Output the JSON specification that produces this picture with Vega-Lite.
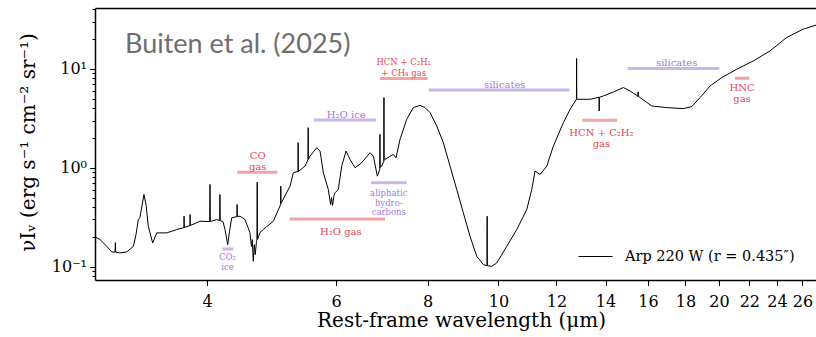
{
  "$schema": "https://vega.github.io/schema/vega-lite/v6.json",
  "autosize": {"type": "none"},
  "padding": {"left": 95, "top": 8, "right": 0, "bottom": 57},
  "width": 721,
  "height": 272,
  "background": "white",
  "config": {
    "view": {"stroke": null},
    "font": "DejaVu Serif",
    "axis": {"labelFont": "DejaVu Serif", "titleFont": "DejaVu Serif", "labelColor": "black", "titleColor": "black", "tickColor": "black", "domainColor": "black", "grid": false, "titleFontWeight": "normal", "domainWidth": 1.5, "tickWidth": 1}
  },
  "datasets": {
    "spectrum": [
      {"wl": 2.813, "f": 0.2000}, {"wl": 2.858, "f": 0.1877}, {"wl": 2.918, "f": 0.1606}, {"wl": 2.965, "f": 0.1409},
      {"wl": 2.996, "f": 0.1402}, {"wl": 2.999, "f": 0.1751}, {"wl": 3.002, "f": 0.1402},
      {"wl": 3.043, "f": 0.1377}, {"wl": 3.108, "f": 0.1409}, {"wl": 3.174, "f": 0.1606}, {"wl": 3.200, "f": 0.2110},
      {"wl": 3.223, "f": 0.2995}, {"wl": 3.240, "f": 0.3137}, {"wl": 3.281, "f": 0.5365}, {"wl": 3.302, "f": 0.4248},
      {"wl": 3.326, "f": 0.2560}, {"wl": 3.372, "f": 0.1738}, {"wl": 3.415, "f": 0.2195}, {"wl": 3.524, "f": 0.2195},
      {"wl": 3.637, "f": 0.2371},
      {"wl": 3.721, "f": 0.2484}, {"wl": 3.722, "f": 0.3233}, {"wl": 3.724, "f": 0.2484},
      {"wl": 3.792, "f": 0.2603}, {"wl": 3.793, "f": 0.3364}, {"wl": 3.795, "f": 0.2603},
      {"wl": 3.913, "f": 0.2877},
      {"wl": 4.034, "f": 0.2857}, {"wl": 4.038, "f": 0.6773}, {"wl": 4.042, "f": 0.2857},
      {"wl": 4.124, "f": 0.2995},
      {"wl": 4.163, "f": 0.2925}, {"wl": 4.166, "f": 0.5365}, {"wl": 4.170, "f": 0.2925},
      {"wl": 4.206, "f": 0.2857}, {"wl": 4.233, "f": 0.2371}, {"wl": 4.269, "f": 0.1670}, {"wl": 4.293, "f": 0.2262},
      {"wl": 4.323, "f": 0.3115},
      {"wl": 4.395, "f": 0.3211}, {"wl": 4.397, "f": 0.4248}, {"wl": 4.400, "f": 0.3211},
      {"wl": 4.437, "f": 0.3233}, {"wl": 4.507, "f": 0.2995}, {"wl": 4.578, "f": 0.2211}, {"wl": 4.600, "f": 0.1595},
      {"wl": 4.612, "f": 0.1877}, {"wl": 4.626, "f": 0.1132}, {"wl": 4.641, "f": 0.1670}, {"wl": 4.655, "f": 0.1323},
      {"wl": 4.673, "f": 0.1792},
      {"wl": 4.680, "f": 0.1877}, {"wl": 4.684, "f": 0.7145}, {"wl": 4.688, "f": 0.1877},
      {"wl": 4.725, "f": 0.2211}, {"wl": 4.774, "f": 0.2371}, {"wl": 4.927, "f": 0.2877},
      {"wl": 5.042, "f": 0.4248}, {"wl": 5.044, "f": 0.6509}, {"wl": 5.047, "f": 0.4348},
      {"wl": 5.193, "f": 0.6509}, {"wl": 5.247, "f": 0.8899},
      {"wl": 5.325, "f": 0.9173}, {"wl": 5.327, "f": 1.792}, {"wl": 5.330, "f": 0.9173},
      {"wl": 5.444, "f": 1.038},
      {"wl": 5.495, "f": 1.214}, {"wl": 5.498, "f": 2.543}, {"wl": 5.500, "f": 1.214},
      {"wl": 5.530, "f": 1.311}, {"wl": 5.648, "f": 1.594}, {"wl": 5.707, "f": 1.473}, {"wl": 5.766, "f": 0.8899},
      {"wl": 5.857, "f": 0.6027}, {"wl": 5.899, "f": 0.4248}, {"wl": 5.917, "f": 0.5003}, {"wl": 5.935, "f": 0.4150},
      {"wl": 5.963, "f": 0.5240}, {"wl": 5.982, "f": 0.5580}, {"wl": 6.044, "f": 0.6027}, {"wl": 6.109, "f": 1.038},
      {"wl": 6.193, "f": 1.473}, {"wl": 6.271, "f": 1.214}, {"wl": 6.370, "f": 1.000}, {"wl": 6.506, "f": 1.124},
      {"wl": 6.678, "f": 1.419}, {"wl": 6.748, "f": 1.311}, {"wl": 6.833, "f": 0.8222},
      {"wl": 6.885, "f": 0.9611}, {"wl": 6.889, "f": 2.175}, {"wl": 6.894, "f": 1.007},
      {"wl": 6.928, "f": 1.038},
      {"wl": 6.972, "f": 1.158}, {"wl": 6.977, "f": 5.120}, {"wl": 6.981, "f": 1.186},
      {"wl": 7.000, "f": 1.214}, {"wl": 7.185, "f": 1.364}, {"wl": 7.246, "f": 1.263}, {"wl": 7.338, "f": 1.935},
      {"wl": 7.494, "f": 3.086}, {"wl": 7.651, "f": 4.054}, {"wl": 7.814, "f": 4.278}, {"wl": 7.938, "f": 4.054},
      {"wl": 8.064, "f": 3.607}, {"wl": 8.236, "f": 2.639}, {"wl": 8.408, "f": 1.792}, {"wl": 8.587, "f": 1.038},
      {"wl": 8.770, "f": 0.6027}, {"wl": 8.954, "f": 0.3499}, {"wl": 9.144, "f": 0.2028}, {"wl": 9.339, "f": 0.1272},
      {"wl": 9.535, "f": 0.1048},
      {"wl": 9.646, "f": 0.1023}, {"wl": 9.650, "f": 0.3233}, {"wl": 9.654, "f": 0.1023},
      {"wl": 9.790, "f": 0.1007}, {"wl": 9.945, "f": 0.1090}, {"wl": 10.263, "f": 0.1606}, {"wl": 10.591, "f": 0.2371},
      {"wl": 10.929, "f": 0.3781}, {"wl": 11.103, "f": 0.6027}, {"wl": 11.218, "f": 0.9238}, {"wl": 11.396, "f": 0.8553},
      {"wl": 11.639, "f": 1.038}, {"wl": 11.882, "f": 1.655}, {"wl": 12.262, "f": 2.857}, {"wl": 12.523, "f": 3.896},
      {"wl": 12.778, "f": 4.920}, {"wl": 12.783, "f": 12.72}, {"wl": 12.789, "f": 4.920},
      {"wl": 13.336, "f": 4.920},
      {"wl": 13.719, "f": 5.157}, {"wl": 13.725, "f": 3.745}, {"wl": 13.730, "f": 5.157},
      {"wl": 13.906, "f": 5.316}, {"wl": 14.350, "f": 5.834}, {"wl": 14.808, "f": 6.464}, {"wl": 15.124, "f": 5.972},
      {"wl": 15.505, "f": 5.279}, {"wl": 15.510, "f": 5.860}, {"wl": 15.515, "f": 5.279},
      {"wl": 15.607, "f": 5.120}, {"wl": 16.191, "f": 4.208}, {"wl": 16.972, "f": 4.054}, {"wl": 17.881, "f": 3.961},
      {"wl": 18.360, "f": 4.150}, {"wl": 18.845, "f": 5.120}, {"wl": 19.447, "f": 6.711}, {"wl": 20.175, "f": 8.165},
      {"wl": 21.148, "f": 9.906}, {"wl": 22.280, "f": 12.02}, {"wl": 23.480, "f": 15.18}, {"wl": 24.744, "f": 20.76},
      {"wl": 26.070, "f": 25.19}, {"wl": 27.13, "f": 27.66}, {"wl": 27.65, "f": 28.97}
    ],
    "bands": [
      {"lo": 4.20, "hi": 4.345, "level": 0.151, "kind": "solid"},
      {"lo": 4.40, "hi": 4.99, "level": 0.902, "kind": "gas"},
      {"lo": 5.19, "hi": 7.00, "level": 0.304, "kind": "gas"},
      {"lo": 5.60, "hi": 6.80, "level": 3.04, "kind": "solid"},
      {"lo": 6.70, "hi": 7.49, "level": 0.705, "kind": "solid"},
      {"lo": 6.89, "hi": 8.00, "level": 7.98, "kind": "gas"},
      {"lo": 8.03, "hi": 12.50, "level": 6.11, "kind": "solid"},
      {"lo": 13.02, "hi": 14.52, "level": 3.015, "kind": "gas"},
      {"lo": 15.01, "hi": 20.02, "level": 10.07, "kind": "solid"},
      {"lo": 21.03, "hi": 22.0, "level": 8.03, "kind": "gas"}
    ],
    "labels": [
      {"wl": 4.691, "level": 1.311, "text": "CO", "kind": "gas"},
      {"wl": 4.691, "level": 1.014, "text": "gas", "kind": "gas"},
      {"wl": 6.092, "level": 0.2247, "text": "H₂O gas", "kind": "gas"},
      {"wl": 6.197, "level": 3.443, "text": "H₂O ice", "kind": "solid"},
      {"wl": 10.199, "level": 6.822, "text": "silicates", "kind": "solid"},
      {"wl": 13.82, "level": 2.262, "text": "HCN + C₂H₂", "kind": "gas"},
      {"wl": 13.82, "level": 1.751, "text": "gas", "kind": "gas"},
      {"wl": 17.51, "level": 11.32, "text": "silicates", "kind": "solid"},
      {"wl": 21.50, "level": 6.36, "text": "HNC", "kind": "gas"},
      {"wl": 21.50, "level": 5.001, "text": "gas", "kind": "gas"}
    ],
    "labels_small": [
      {"wl": 4.266, "level": 0.1254, "text": "CO₂", "kind": "solid"},
      {"wl": 4.266, "level": 0.0984, "text": "ice", "kind": "solid"},
      {"wl": 7.083, "level": 0.5527, "text": "aliphatic", "kind": "solid"},
      {"wl": 7.083, "level": 0.4449, "text": "hydro-", "kind": "solid"},
      {"wl": 7.083, "level": 0.3582, "text": "carbons", "kind": "solid"},
      {"wl": 7.424, "level": 11.75, "text": "HCN + C₂H₂", "kind": "gas"},
      {"wl": 7.424, "level": 9.174, "text": "+ CH₄ gas", "kind": "gas"}
    ],
    "credit": [
      {"wl": 3.091, "level": 14.29, "text": "Buiten et al. (2025)"}
    ]
  },
  "layer": [
    {
      "data": {"name": "spectrum"},
      "mark": {"type": "line", "strokeWidth": 1, "clip": true},
      "encoding": {
        "x": {
          "field": "wl", "type": "quantitative",
          "scale": {"type": "log", "domain": [2.813, 27.13], "nice": false},
          "axis": {"orient": "bottom", "values": [4, 6, 8, 10, 12, 14, 16, 18, 20, 22, 24, 26], "format": "d", "tickSize": 5.5, "labelFont": "DejaVu Serif", "labelFontSize": 16, "labelPadding": 7.5, "labelFlush": false, "labelOverlap": false,
            "title": "Rest-frame wavelength (μm)", "titleFont": "DejaVu Serif", "titleFontSize": 20, "titleX": 366, "titleY": 46, "titleBaseline": "alphabetic", "titleAlign": "center"}
        },
        "y": {
          "field": "f", "type": "quantitative",
          "scale": {"type": "log", "domain": [0.0733, 41.2], "nice": false},
          "axis": {"orient": "left", "values": [0.1, 1, 10], "labelExpr": "datum.value < 0.5 ? '10⁻¹' : (datum.value < 5 ? '10⁰' : '10¹')", "tickSize": 5.5, "labelFont": "DejaVu Serif", "labelFontSize": 16, "labelPadding": 3, "labelBaseline": "middle",
            "title": "νIᵥ (erg s⁻¹ cm⁻² sr⁻¹)", "titleFont": "DejaVu Serif", "titleFontSize": 20, "titleX": -61, "titleY": 134, "titleAngle": -90, "titleBaseline": "alphabetic", "titleAlign": "center"}
        },
        "color": {
          "datum": "Arp 220 W (r = 0.435″)",
          "scale": {"range": ["black"]},
          "legend": {"orient": "none", "legendX": 483, "legendY": 231, "title": null, "symbolType": "stroke", "symbolSize": 1156, "symbolStrokeWidth": 1, "labelFont": "DejaVu Serif", "labelFontSize": 14.5, "labelOffset": 12, "labelLimit": 400, "labelColor": "black", "padding": 0}
        }
      }
    },
    {
      "data": {"name": "bands"},
      "mark": {"type": "rule", "strokeWidth": 3},
      "encoding": {
        "x": {
          "field": "lo", "type": "quantitative",
          "scale": {"type": "log", "domain": [2.813, 27.13], "nice": false},
          "axis": {"orient": "top", "ticks": false, "labels": false, "title": null, "domain": true}
        },
        "x2": {"field": "hi"},
        "y": {
          "field": "level", "type": "quantitative",
          "scale": {"type": "log", "domain": [0.0733, 41.2], "nice": false},
          "axis": {"orient": "left", "values": [0.08, 0.09, 0.2, 0.3, 0.4, 0.5, 0.6, 0.7, 0.8, 0.9, 2, 3, 4, 5, 6, 7, 8, 9, 20, 30, 40], "labels": false, "domain": false, "tickSize": 3, "title": null}
        },
        "color": {"condition": {"test": "datum.kind === 'gas'", "value": "#f2a3a5"}, "value": "#c9b6e6"}
      }
    },
    {
      "data": {"name": "labels"},
      "mark": {"type": "text", "font": "DejaVu Serif", "fontSize": 10, "align": "center", "baseline": "middle"},
      "encoding": {
        "x": {"field": "wl", "type": "quantitative", "scale": {"type": "log", "domain": [2.813, 27.13], "nice": false}, "axis": null},
        "y": {"field": "level", "type": "quantitative", "scale": {"type": "log", "domain": [0.0733, 41.2], "nice": false}, "axis": null},
        "text": {"field": "text"},
        "color": {"condition": {"test": "datum.kind === 'gas'", "value": "#e4464e"}, "value": "#9e7ad8"}
      }
    },
    {
      "data": {"name": "labels_small"},
      "mark": {"type": "text", "font": "DejaVu Serif", "fontSize": 8.5, "align": "center", "baseline": "middle"},
      "encoding": {
        "x": {"field": "wl", "type": "quantitative", "scale": {"type": "log", "domain": [2.813, 27.13], "nice": false}, "axis": null},
        "y": {"field": "level", "type": "quantitative", "scale": {"type": "log", "domain": [0.0733, 41.2], "nice": false}, "axis": null},
        "text": {"field": "text"},
        "color": {"condition": {"test": "datum.kind === 'gas'", "value": "#e4464e"}, "value": "#9e7ad8"}
      }
    },
    {
      "data": {"name": "credit"},
      "mark": {"type": "text", "font": "Lato", "fontSize": 27, "align": "left", "baseline": "alphabetic", "color": "#6e6e6e"},
      "encoding": {
        "x": {"field": "wl", "type": "quantitative", "scale": {"type": "log", "domain": [2.813, 27.13], "nice": false}, "axis": null},
        "y": {"field": "level", "type": "quantitative", "scale": {"type": "log", "domain": [0.0733, 41.2], "nice": false}, "axis": null},
        "text": {"field": "text"}
      }
    }
  ],
  "resolve": {"axis": {"x": "independent", "y": "independent"}}
}
